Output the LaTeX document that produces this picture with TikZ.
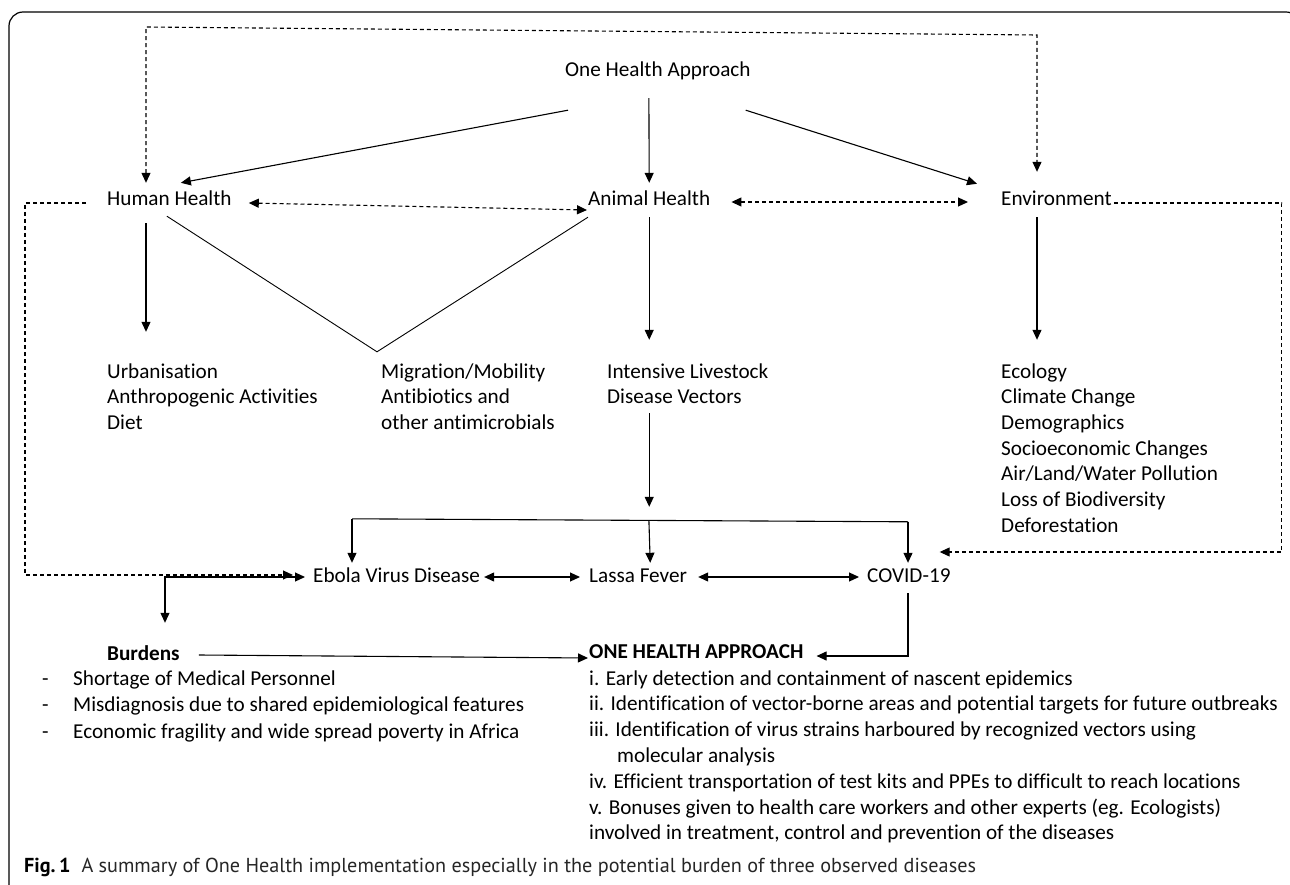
\documentclass[tikz,border=0pt]{standalone}
\usepackage{fontspec}
\setmainfont{Carlito}[Ligatures=NoCommon]
\newfontfamily\capfont{PT Sans}
\usepackage{tikz}
\usetikzlibrary{calc,arrows.meta}

\begin{document}
\begin{tikzpicture}[x=1pt,y=-1pt,
  txt/.style={anchor=west,inner sep=0pt,text height=15pt,text depth=5pt,font=\fontsize{21.2}{25}\selectfont},
  arr/.style={-{Triangle[length=10pt,width=9pt]},line width=1.1pt},
  dbl/.style={{Triangle[length=10pt,width=9pt]}-{Triangle[length=10pt,width=9pt]},line width=1.1pt},
  dsh/.style={dash pattern=on 4pt off 3pt,line width=0.9pt}]
\useasboundingbox (0,0) rectangle (1290,885);
\draw[line width=1.2pt,rounded corners=14pt] (9,900)--(9,12)--(1300,12)--(1300,900);
% main nodes
\node[txt] (oh) at (565,72) {One Health Approach};
\node[txt] (hh) at (107,201) {Human Health};
\node[txt] (ah) at (588,201) {Animal Health};
\node[txt] (env) at (1001,201) {Environment};
\foreach \t [count=\i] in {Urbanisation,Anthropogenic Activities,Diet}{\node[txt] (hum\i) at (107,{373+25.5*(\i-1)}) {\t};}
\foreach \t [count=\i] in {Migration/Mobility,Antibiotics and,other antimicrobials}{\node[txt] (mig\i) at (381,{373+25.5*(\i-1)}) {\t};}
\foreach \t [count=\i] in {Intensive Livestock,Disease Vectors}{\node[txt] (ani\i) at (607,{373+25.5*(\i-1)}) {\t};}
\foreach \t [count=\i] in {Ecology,Climate Change,Demographics,Socioeconomic Changes,Air/Land/Water Pollution,Loss of Biodiversity,Deforestation}{\node[txt] (eco\i) at (1001,{373+25.67*(\i-1)}) {\t};}
\node[txt] (ebola) at (313,577) {Ebola Virus Disease};
\node[txt] (lassa) at (589,577) {Lassa Fever};
\node[txt] (covid) at (867,577) {COVID-19};
\node[txt,font=\fontsize{21.2}{25}\selectfont\bfseries] (burd) at (107,655) {Burdens};
\node[txt,font=\fontsize{21.2}{25}\selectfont\bfseries] (ohap) at (589,653) {ONE HEALTH APPROACH};
\foreach \t [count=\i] in {Shortage of Medical Personnel,Misdiagnosis due to shared epidemiological features,Economic fragility and wide spread poverty in Africa}{
  \node[txt] (bd\i) at (42,{680+26.5*(\i-1)}) {-};
  \node[txt] (bt\i) at (73,{680+26.5*(\i-1)}) {\t};}
\foreach \x/\t [count=\i] in {589/{i. Early detection and containment of nascent epidemics},589/{ii. Identification of vector-borne areas and potential targets for future outbreaks},589/{iii. Identification of virus strains harboured by recognized vectors using},617/{molecular analysis},589/{iv. Efficient transportation of test kits and PPEs to difficult to reach locations},589/{v. Bonuses given to health care workers and other experts (eg. Ecologists)},589/{involved in treatment, control and prevention of the diseases}}{\node[txt] (oa\i) at (\x,{680+25.8*(\i-1)}) {\t};}
\node[anchor=west,inner sep=0pt,font=\capfont\fontsize{20.2}{24}\selectfont] (cap) at (24,867) {\textbf{Fig.\,1}\hspace{11pt}\textcolor{black!85}{A summary of One Health implementation especially in the potential burden of three observed diseases}};
% connectors
\coordinate (tl) at (146,27); \coordinate (tr) at (1037,35);
\draw[dsh,dbl] ($(hh.north west)+(39,-8)$)--(tl)--(tr)--($(env.north west)+(36,-19)$);
\draw[arr] ($(oh.south west)+(3,28)$)--($(hh.north)+(11.5,-8)$);
\draw[arr] ($(oh.south)+(-9,16)$)--($(ah.north)+(0,-8)$);
\draw[arr] ($(oh.south east)+(-5,28)$)--($(env.north west)+(-24,-7)$);
\draw[dsh,dbl] ($(hh.east)+(17,2)$)--($(ah.west)+(-1,9)$);
\draw[dsh,dbl] ($(ah.east)+(21,1)$)--($(env.west)+(-33,1)$);
\draw[arr] ($(hh.south west)+(39,12)$)--($(hum1.north west)+(39,-31)$);
\draw[line width=0.9pt] ($(hh.south)+(-2.5,5)$)--($(mig1.north west)+(-4,-11)$)--($(ah.south west)+(0,6)$);
\draw[arr] ($(ah.south)+(0,6)$)--($(ah.south |- ani1.north)+(0,-23)$);
\draw[arr] ($(env.south west)+(36,6)$)--($(env.south west |- eco1.north)+(36,-23)$);
\draw[arr] ($(ah.south |- ani2.south)+(0,4.5)$)--($(ah.south |- lassa.north)+(0,-60)$);
\coordinate (bl) at ($(ebola.north west)+(39,-48)$);
\coordinate (br) at ($(covid.north west)+(41,-45)$);
\draw[line width=1.1pt] (bl)--(br);
\draw[arr] (bl)--($(bl |- ebola.north)+(0,-4)$);
\draw[arr] (br)--($(br |- covid.north)+(0,-4)$);
\draw[arr] ($(bl)!0.534!(br)$)--($(ah.south |- lassa.north)+(1,-4)$);
\draw[dsh,arr] ($(hh.west)+(-21,2)$)--($(hh.west)+(-82,2)$)|-($(ebola.west)+(-20,-2)$);
\draw[dsh,arr] ($(env.east)+(2,2)$)--($(env.east)+(170,2)$)|-($(covid.east)+(-11,-25)$);
\draw[dbl] ($(ebola.west)+(-8,0)$)-|($(burd.north west)+(58,-22)$);
\draw[dbl] ($(ebola.east)+(4,0)$)--($(lassa.west)+(-9,0)$);
\draw[dbl] ($(lassa.east)+(11,0)$)--($(covid.west)+(-8,0)$);
\draw[arr] ($(covid.south west)+(41,6)$)|-($(ohap.east)+(13,3)$);
\draw[arr] ($(burd.east)+(19,0)$)--($(ohap.west)+(-1,5)$);
\end{tikzpicture}
\end{document}
